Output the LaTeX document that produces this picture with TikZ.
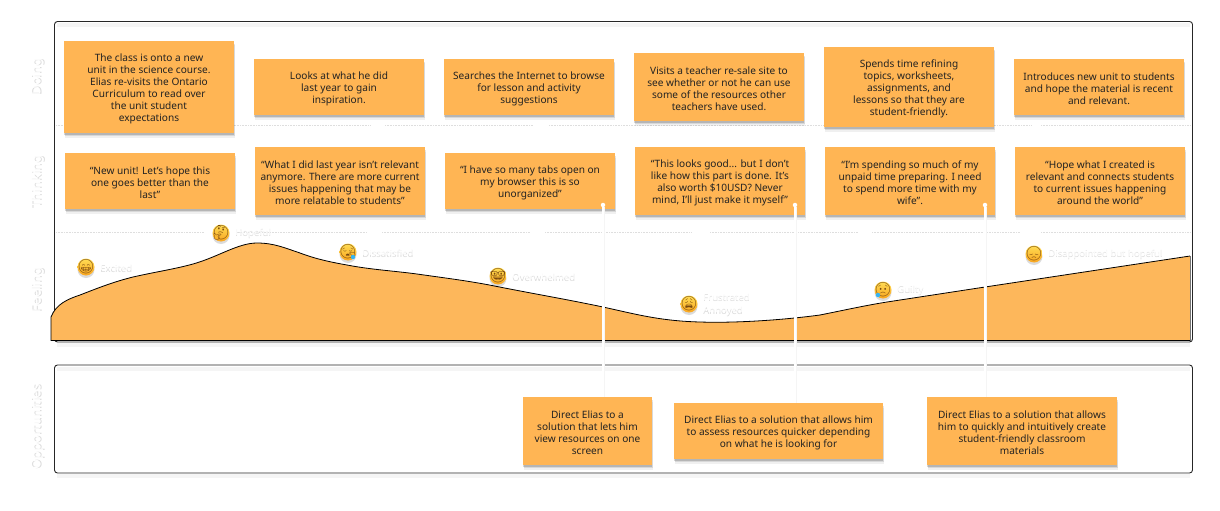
\documentclass[tikz,border=0pt]{standalone}
\usepackage{fontspec}
\setmainfont{Noto Sans}
\newfontfamily\emojifont{Noto Emoji}
\usetikzlibrary{shadows,positioning}
\definecolor{jrnorange}{HTML}{FFB554}
\definecolor{jrncurve}{HTML}{FDB75B}
\definecolor{jrndark}{HTML}{222222}
\definecolor{jrntop}{HTML}{FFDD55}
\definecolor{jrnbot}{HTML}{F9A51E}
\definecolor{jrnface}{HTML}{7A4A10}
\definecolor{jrndrop}{HTML}{35B4F2}
\tikzset{
  note/.style={fill=jrnorange,inner sep=0pt,
    drop shadow={shadow xshift=1.2pt,shadow yshift=-4.5pt,opacity=.06,fill=black},
    drop shadow={shadow xshift=0.8pt,shadow yshift=-3pt,opacity=.10,fill=black},
    drop shadow={shadow xshift=0.4pt,shadow yshift=-1.5pt,opacity=.16,fill=black}},
  notetext/.style={text=jrndark,align=center,inner sep=0pt,font=\fontsize{10.1}{12}\selectfont},
  frame/.style={draw=black!85,rounded corners=3pt,line width=0.9pt},
  rowlabel/.style={rotate=90,text=white,font=\fontsize{13}{14}\selectfont},
  rowshade/.style={rowlabel,text=black!14},
  feel/.style={anchor=west,text=white,align=left,inner sep=0pt,font=\fontsize{9.5}{12.5}\selectfont},
  feelshade/.style={feel,text=black!14},
  face/.style={circle,top color=jrntop,bottom color=jrnbot,inner sep=0pt,minimum size=17pt,
    drop shadow={shadow xshift=0pt,shadow yshift=-2.5pt,opacity=.14,fill=black}},
  facetext/.style={text=jrnface,inner sep=0pt,font=\emojifont\fontsize{14}{14}\selectfont},
  sep/.style={black!13,line width=0.6pt,densely dotted},
  link/.style={white,line width=1.2pt},
  linkshade/.style={black!4,line width=3pt},
  pin/.style={circle,fill=white,inner sep=0pt,minimum size=4.5pt},
}
\begin{document}
\begin{tikzpicture}[x=1pt,y=-1pt]
  \useasboundingbox (0,0) rectangle (1220,511);
  % frames
  \foreach \y in {25,345,369,476}
    \draw[black!4,line width=4pt] (57,\y)--(1190,\y);
  \draw[frame] (54.5,21.5) rectangle (1192.5,342);
  \draw[frame] (54.5,365) rectangle (1192.5,473);
  % separators
  \foreach \a/\b in {56/370,385/533,549/1031,1041/1190}
    \draw[sep] (\a,125.7)--(\b,125.7);
  \foreach \a/\b in {56/204,238/367,382/530,545/692,710/858,872/1020,1041/1190}
    \draw[sep] (\a,232.7)--(\b,232.7);
  % row labels
  \foreach \y/\n/\t in {77/doing/Doing,182/thinking/Thinking,290/feeling/Feeling,427/opps/Opportunities}{
    \node[rowshade] (\n shade) at (38.5,\y) {\t};
    \node[rowlabel] (\n) at (37,\y) {\t};}
  % curve
  \draw[black,line width=0.8pt,fill=jrncurve] (1190,340.5) -- (51,340.5) -- (51,317)
    .. controls (56,304) and (68,299) .. (80,295)
    .. controls (98,288) and (113,282) .. (133,277)
    .. controls (155,272) and (175,269) .. (193,264)
    .. controls (218,257) and (238,243) .. (257,243)
    .. controls (274,243) and (285,248) .. (300,253)
    .. controls (316,259) and (330,262) .. (347,265)
    .. controls (370,269.5) and (395,271) .. (417,274)
    .. controls (445,278) and (470,281) .. (497,286.5)
    .. controls (535,294) and (570,300) .. (603,307)
    .. controls (635,314) and (660,321) .. (700,322)
    .. controls (730,323) and (775,321) .. (820,315)
    .. controls (845,310) and (865,305.5) .. (887,302)
    -- (985,287) -- (1190,256);
  \draw[black!55,line width=0.8pt] (1190,256) -- (1190,340.5);
  % notes
  \foreach \n/\x/\y/\w/\h/\t in {
    doA/149/87/170/92/{The class is onto a new\\unit in the science course.\\Elias re-visits the Ontario\\Curriculum to read over\\the unit student\\expectations},
    doB/339/87/170/56/{Looks at what he did\\last year to gain\\inspiration.},
    doC/529/87/170/56/{Searches the Internet to browse\\for lesson and activity\\suggestions},
    doD/719/87/170/68/{Visits a teacher re-sale site to\\see whether or not he can use\\some of the resources other\\teachers have used.},
    doE/909/87/170/80/{Spends time refining\\topics, worksheets,\\assignments, and\\lessons so that they are\\student-friendly.},
    doF/1099/87/170/56/{Introduces new unit to students\\and hope the material is recent\\and relevant.},
    thA/150/181/170/56/{“New unit! Let’s hope this\\one goes better than the\\last”},
    thB/340/181/170/68/{“What I did last year isn’t relevant\\anymore. There are more current\\issues happening that may be\\more relatable to students”},
    thC/530/181/170/56/{“I have so many tabs open on\\my browser this is so\\unorganized”},
    thD/720/181/170/68/{“This looks good... but I don’t\\like how this part is done. It’s\\also worth \$10USD? Never\\mind, I’ll just make it myself”},
    thE/910/181/170/68/{“I’m spending so much of my\\unpaid time preparing. I need\\to spend more time with my\\wife”.},
    thF/1100/181/170/68/{“Hope what I created is\\relevant and connects students\\to current issues happening\\around the world”},
    opA/587.5/431/129/68/{Direct Elias to a\\solution that lets him\\view resources on one\\screen},
    opB/778.5/431/209/56/{Direct Elias to a solution that allows him\\to assess resources quicker depending\\on what he is looking for},
    opC/1022/431/190/68/{Direct Elias to a solution that allows\\him to quickly and intuitively create\\student-friendly classroom\\materials}}{
    \node[note,minimum width=\w pt,minimum height=\h pt] (\n) at (\x,\y) {};
    \node[notetext] (\n txt) at ([yshift=-1.5pt]\n.center) {\t};}
  % links
  \foreach \n/\x/\o in {pinA/603/opA,pinB/795/opB,pinC/985/opC}{
    \node[pin] (\n) at (\x,205) {};
    \draw[linkshade] (\n) -- (\n |- \o.north);
    \draw[link] (\n) -- (\n |- \o.north);}
  % feelings
  \foreach \n/\x/\y/\g/\t in {
    faceA/86/267/1F601/Excited,
    faceB/221/233/1F914/Hopeful,
    faceC/348/252/1F62A/Dissatisfied,
    faceD/498/276/1F913/Overwhelmed,
    faceE/689/304/1F629/{Frustrated\\Annoyed},
    faceF/883/290/1F61F/Guilty,
    faceG/1034/254/1F61E/Disappointed but hopeful}{
    \node[face] (\n) at (\x,\y) {};
    \node[facetext] (\n g) at (\n.center) {\symbol{"\g}};
    \node[feelshade,right=5.5pt of \n,yshift=-1.5pt] (\n shade) {\t};
    \node[feel,right=5.5pt of \n] (\n txt) {\t};}
  \fill[jrndrop] ([xshift=5pt,yshift=-5pt]faceC.center) circle (2.2pt);
  \fill[jrndrop] ([xshift=-5pt,yshift=-5pt]faceF.center) circle (2.2pt);
\end{tikzpicture}
\end{document}
